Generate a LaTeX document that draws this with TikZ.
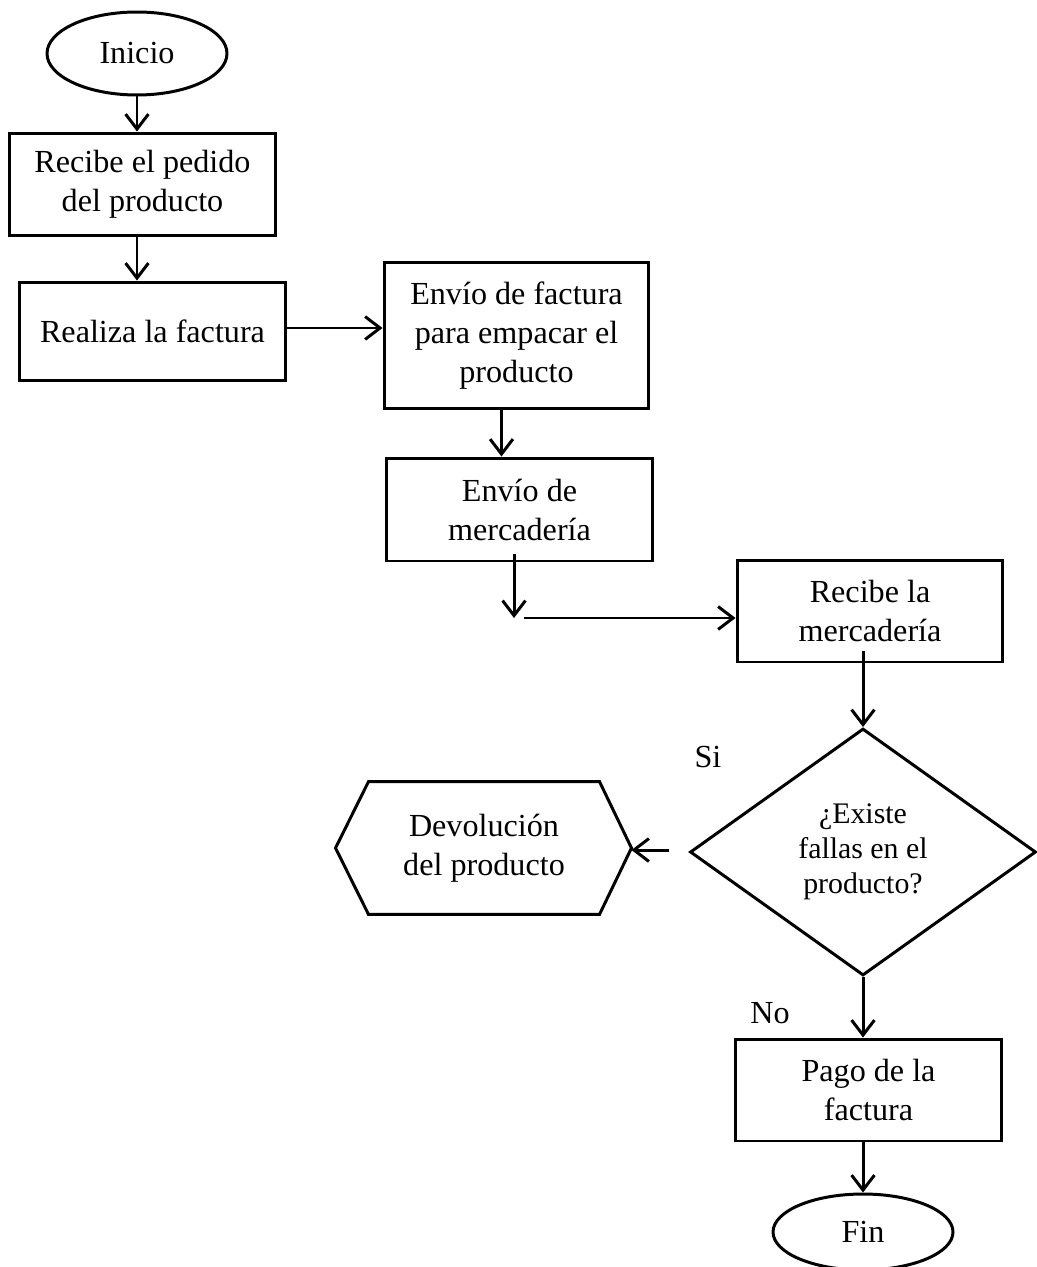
\documentclass[tikz,border=0pt]{standalone}
\usepackage{fontspec}
\setmainfont{Liberation Serif}
\usetikzlibrary{arrows.meta,shapes.geometric}

\begin{document}
\begin{tikzpicture}[x=0.02cm,y=-0.02cm,>={Straight Barb[length=8.5pt,width=13pt]},line width=1.7pt,
	caja/.style={draw,rectangle,align=center,inner sep=0pt,minimum width=5.34cm,minimum height=2.06cm},
	term/.style={draw,ellipse,inner sep=0pt,minimum width=3.6cm,minimum height=1.66cm},
	font=\fontsize{18.3}{22.2}\selectfont]
			\useasboundingbox (0,0) rectangle (1036,1267);

			% Nodes
			\node[term] (ini) at (137,53.5) {Inicio};
			\node[caja] (b1) at (142.5,184.5) {Recibe el pedido\\del producto};
			\node[caja,minimum height=1.98cm] (b2) at (152.5,331.5) {Realiza la factura};
			\node[caja,minimum width=5.3cm,minimum height=2.94cm] (b3) at (516.5,335.5) {Envío de factura\\para empacar el\\producto};
			\node[caja] (b4) at (519.5,509.5) {Envío de\\mercadería};
			\node[caja,minimum width=5.32cm,minimum height=2.04cm] (b5) at (870,611) {Recibe la\\mercadería};
			\node[draw,diamond,inner sep=0pt,minimum width=6.92cm,minimum height=4.94cm,align=center,
				font=\fontsize{17}{20}\selectfont] (dia) at (863,852) {¿Existe\\fallas en el\\producto?};
			\node[align=center,inner sep=0pt,minimum width=4.56cm,minimum height=2.6cm] (dev) at (484,848) {Devolución\\del producto};
			\node[caja,minimum height=2.04cm] (b6) at (868.5,1090) {Pago de la\\factura};
			\node[term,minimum height=1.52cm] (fin) at (863,1232) {Fin};

			% Labels
			\node (si) at (708,757) {Si};
			\node (no) at (770,1013) {No};

			% Hexagon round dev
			\draw ([xshift=-0.66cm]dev.west) -- (dev.north west) -- (dev.north east)
				-- ([xshift=0.64cm]dev.east) -- (dev.south east) -- (dev.south west) -- cycle;

			% Free ends
			\coordinate (c1) at (514,618);
			\coordinate (c2) at (524,618);
			\coordinate (c3) at (669,850);
			\coordinate (devp) at ([xshift=0.64cm]dev.east);

			% Lines going down
			\draw[->] (ini.south) -- (ini.south |- b1.north);
			\draw[->] (ini.south |- b1.south) -- (ini.south |- b2.north);
			\draw[->] ([xshift=-0.3cm]b3.south) -- ([xshift=-0.3cm]b3.south |- b4.north);
			\draw[->] ([yshift=0.16cm]c1 |- b4.south) -- (c1);
			\draw[->] ([yshift=0.24cm]dia.north |- b5.south) -- (dia.north);
			\draw[->] (dia.south) -- (dia.south |- b6.north);
			\draw[->] (fin.north |- b6.south) -- (fin.north);

			% Lines going across
			\draw[->] (b2.east |- 0,328) -- (b3.west |- 0,328);
			\draw[->] (c2) -- (c2 -| b5.west);
			\draw[->] (c3) -- (c3 -| devp);

		\end{tikzpicture}
\end{document}
